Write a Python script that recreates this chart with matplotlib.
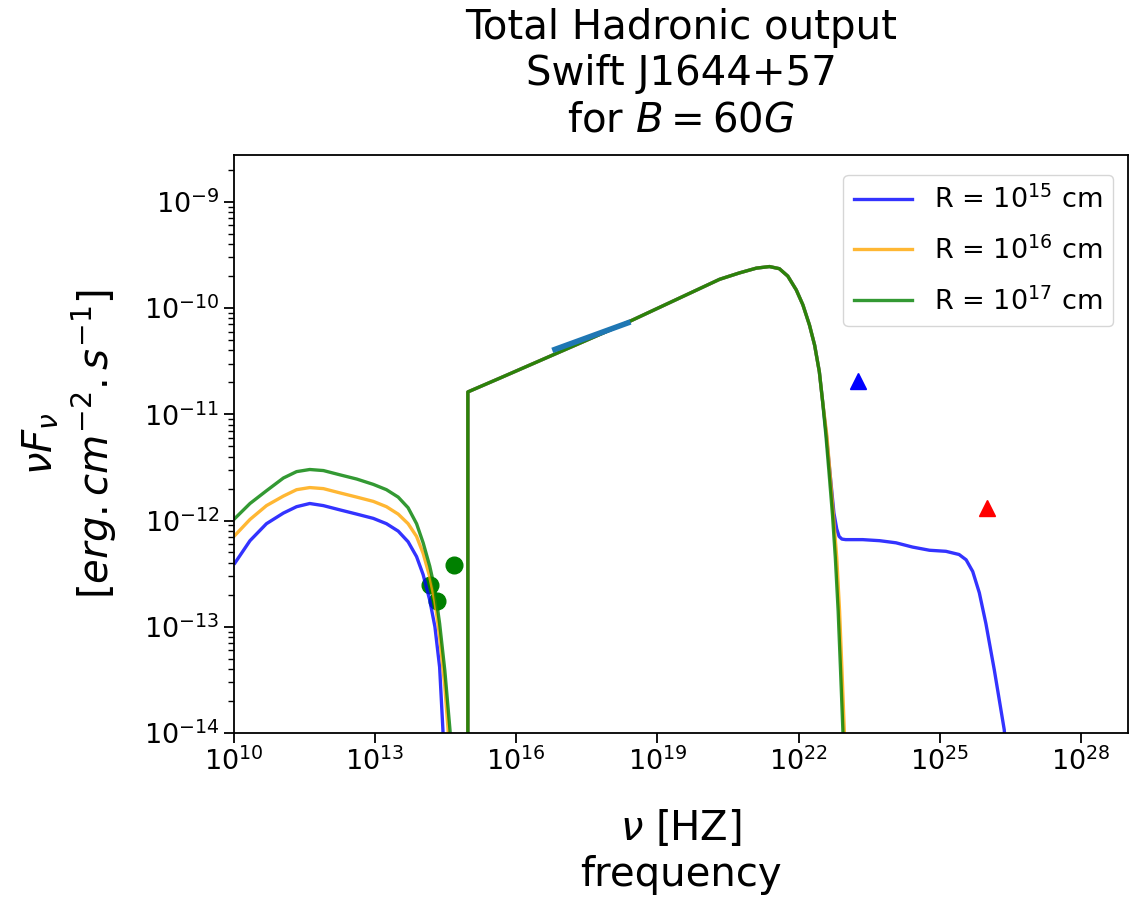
import numpy as np
import matplotlib
matplotlib.use("Agg")
import matplotlib.pyplot as plt
from matplotlib.ticker import LogLocator, NullLocator, FixedLocator

# ---------------- data (log10 values) ----------------
# low-energy bump, one per radius
lo_nu_green = [10.02, 10.34, 10.69, 11.05, 11.33, 11.61, 11.90, 12.25, 12.61, 12.96, 13.24, 13.49, 13.70, 13.88,
               14.02, 14.16, 14.27, 14.37, 14.48, 14.59, 14.66]
lo_F_green = [-11.98, -11.84, -11.72, -11.60, -11.54, -11.52, -11.53, -11.57, -11.61, -11.66, -11.71, -11.78, -11.88,
              -12.03, -12.21, -12.43, -12.65, -12.97, -13.41, -13.97, -14.5]
lo_nu_orange = [10.02, 10.34, 10.69, 11.05, 11.33, 11.61, 11.90, 12.25, 12.61, 12.96, 13.24, 13.49, 13.70, 13.88,
                14.02, 14.16, 14.27, 14.37, 14.48, 14.55, 14.60]
lo_F_orange = [-12.14, -11.99, -11.86, -11.77, -11.71, -11.69, -11.70, -11.74, -11.78, -11.82, -11.87, -11.94, -12.03,
               -12.15, -12.31, -12.53, -12.76, -13.09, -13.56, -13.97, -14.5]
lo_nu_blue = [10.02, 10.34, 10.69, 11.05, 11.33, 11.61, 11.90, 12.25, 12.61, 12.96, 13.24, 13.49, 13.70, 13.88,
              14.02, 14.16, 14.27, 14.37, 14.44, 14.49]
lo_F_blue = [-12.40, -12.19, -12.03, -11.93, -11.87, -11.84, -11.86, -11.90, -11.94, -11.98, -12.03, -12.10, -12.20,
             -12.34, -12.51, -12.75, -13.00, -13.38, -13.97, -14.5]

# high-energy hump shared by all radii (jump at 1e15)
he_nu = [14.97, 14.97, 15.65, 18.34, 20.32, 20.74, 21.10, 21.38, 21.59, 21.77, 21.95, 22.09, 22.23, 22.34, 22.44, 22.51]
he_F = [-14.5, -10.79, -10.66, -10.14, -9.73, -9.67, -9.625, -9.61, -9.63, -9.70, -9.83, -9.97, -10.16, -10.35, -10.60, -10.88]

# tails
tail_nu_green = [22.58, 22.65, 22.72, 22.78, 22.84, 22.89, 22.94, 22.98]
tail_F_green = [-11.20, -11.57, -11.95, -12.35, -12.85, -13.40, -13.97, -14.5]
tail_nu_orange = [22.60, 22.67, 22.74, 22.81, 22.87, 22.92, 22.97, 23.01]
tail_F_orange = [-11.20, -11.57, -11.95, -12.35, -12.85, -13.40, -13.97, -14.5]
tail_nu_blue = [22.59, 22.67, 22.75, 22.81, 22.86, 22.92, 23.00, 23.36, 23.72, 24.07, 24.42, 24.78, 25.13, 25.41,
                25.56, 25.70, 25.84, 25.98, 26.16, 26.37, 26.45]
tail_F_blue = [-11.20, -11.57, -11.93, -12.08, -12.15, -12.175, -12.18, -12.18, -12.19, -12.21, -12.25, -12.28, -12.29,
               -12.32, -12.37, -12.48, -12.68, -12.97, -13.41, -13.97, -14.5]

# observations
ir_nu = [14.16, 14.31, 14.67]
ir_F = [-12.61, -12.76, -12.42]
xray_nu = [16.82, 18.37]
xray_F = [-10.39, -10.14]
fermi_nu, fermi_F = [23.27], [-10.69]
veritas_nu, veritas_F = [26.01], [-11.88]

labels = [r"R = $10^{15}$ cm", r"R = $10^{16}$ cm", r"R = $10^{17}$ cm"]
colors = ["blue", "orange", "green"]

xticks_exp = [10, 13, 16, 19, 22, 25, 28]
yticks_exp = [-14, -13, -12, -11, -10, -9]

# ---------------- plotting ----------------
def p(a):
    return 10.0 ** np.asarray(a, dtype=float)

fig = plt.figure(figsize=(11.33, 8.97), dpi=100)
ax = fig.add_axes([234/1133, 1-733/897, (1128-234)/1133, (733-155)/897])

ax.plot(p(ir_nu), p(ir_F), "o", color="green", markersize=12, zorder=1)

series = [
    (lo_nu_blue, lo_F_blue, tail_nu_blue, tail_F_blue),
    (lo_nu_orange, lo_F_orange, tail_nu_orange, tail_F_orange),
    (lo_nu_green, lo_F_green, tail_nu_green, tail_F_green),
]
for (lnu, lF, tnu, tF), c, lab in zip(series, colors, labels):
    nu = list(lnu) + list(he_nu) + list(tnu)
    F = list(lF) + list(he_F) + list(tF)
    ax.plot(p(nu), p(F), color=c, lw=2.4, alpha=0.8, label=lab, zorder=2,
            solid_joinstyle="round")

ax.plot(p(xray_nu), p(xray_F), color="#1f77b4", lw=4, zorder=3)
ax.plot(p(fermi_nu), p(fermi_F), "^", color="blue", markersize=12, zorder=3)
ax.plot(p(veritas_nu), p(veritas_F), "^", color="red", markersize=12, zorder=3)

ax.set_xscale("log")
ax.set_yscale("log")
ax.set_xlim(1e10, 1e29)
ax.set_ylim(1e-14, 10**-8.56)

ax.xaxis.set_major_locator(FixedLocator(p(xticks_exp)))
ax.xaxis.set_minor_locator(NullLocator())
ax.yaxis.set_major_locator(FixedLocator(p(yticks_exp)))
ax.yaxis.set_minor_locator(LogLocator(base=10, subs=np.arange(2, 10), numticks=50))

ax.tick_params(axis="both", which="major", labelsize=19.5, length=7, width=1.3)
ax.tick_params(axis="both", which="minor", length=4, width=1.0)
for s in ax.spines.values():
    s.set_linewidth(1.3)

ax.set_title("Total Hadronic output\nSwift J1644+57\nfor $B = 60G$", fontsize=29, pad=17)
ax.set_xlabel("$\\nu$ [HZ]\nfrequency", fontsize=29, labelpad=23)
ax.set_ylabel("$\\nu F_\\nu$\n[$erg.cm^{-2}.s^{-1}$]", fontsize=29, labelpad=18)

leg = ax.legend(loc="upper right", bbox_to_anchor=(1.0, 1.0 - 5/578), fontsize=19.5,
                handlelength=2.15, handletextpad=0.8, borderpad=0.4,
                labelspacing=0.82, borderaxespad=0.55)

fig.savefig("out.png", dpi=100)
